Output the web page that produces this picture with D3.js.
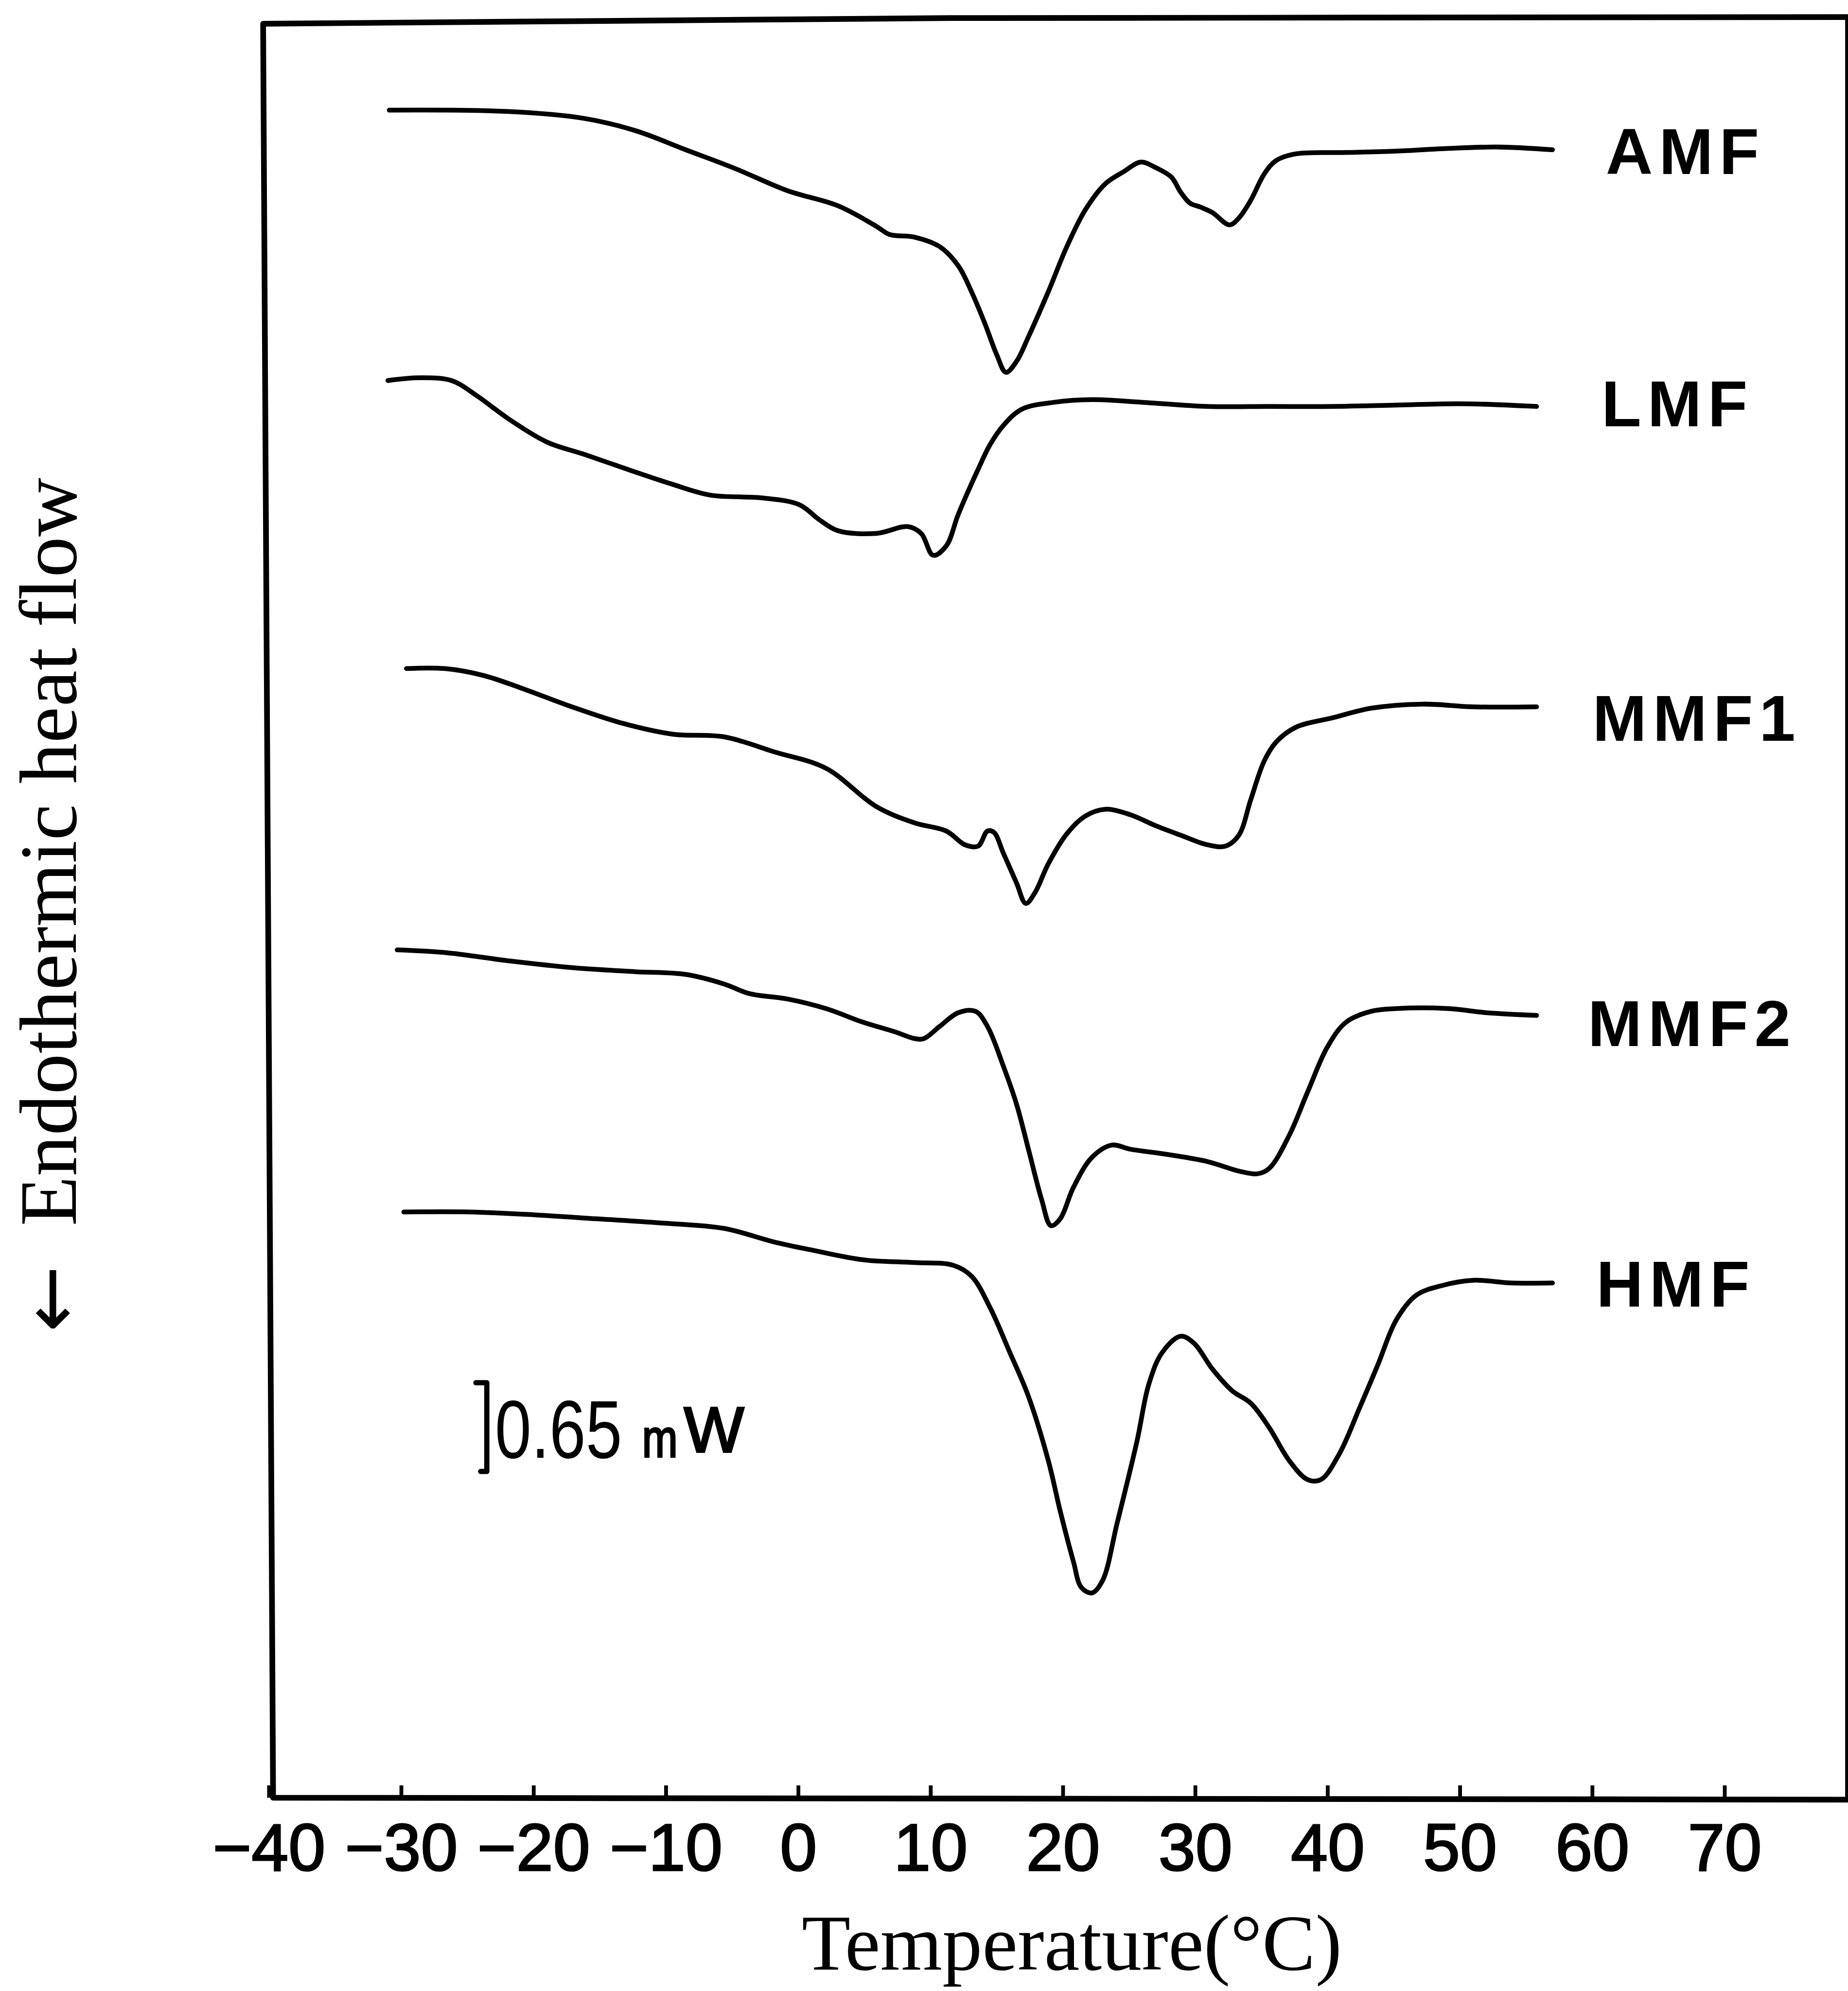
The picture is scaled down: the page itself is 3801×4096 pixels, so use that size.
<!DOCTYPE html>
<html>
<head>
<meta charset="utf-8">
<script src="https://cdn.jsdelivr.net/npm/d3@7"></script>
<style>
  html, body { margin: 0; padding: 0; background: #fff; }
  svg { display: block; }
</style>
</head>
<body>
<div id="chart"></div>
<script>
// DSC melting curves, heat flow in mW (curves stacked with offsets)
const tickValues = [-40, -30, -20, -10, 0, 10, 20, 30, 40, 50, 60, 70];
const seriesNames = ["AMF", "LMF", "MMF1", "MMF2", "HMF"];
const scaleBarMw = 0.65;

const amfTemp = [-30.9, -21.9, -16.2, -12.3, -8.5, -4.7, -0.8, 3.0, 5.9, 6.9, 8.8, 10.7, 12.1, 13.1, 14.1, 15.0, 15.7, 16.5, 17.4, 18.9, 20.3, 21.7, 23.2, 24.6, 25.9, 27.0, 28.2, 28.9, 29.6, 30.4, 31.3, 32.6, 33.3, 34.2, 35.2, 36.1, 37.6, 41.4, 45.2, 49.1, 52.9, 57.0];
const amfFlow = [12.36, 12.35, 12.30, 12.21, 12.07, 11.93, 11.77, 11.66, 11.51, 11.45, 11.43, 11.36, 11.22, 11.03, 10.80, 10.57, 10.44, 10.52, 10.70, 11.03, 11.36, 11.63, 11.82, 11.91, 11.98, 11.94, 11.87, 11.76, 11.68, 11.65, 11.61, 11.52, 11.57, 11.70, 11.89, 11.99, 12.04, 12.05, 12.06, 12.08, 12.09, 12.07];

const lmfTemp = [-31.0, -28.6, -26.2, -24.3, -21.9, -19.0, -16.2, -12.3, -9.5, -6.6, -2.7, 0.1, 1.6, 3.0, 5.9, 8.3, 9.3, 10.2, 11.2, 12.1, 13.6, 14.5, 15.5, 16.9, 19.3, 22.2, 26.1, 30.9, 35.6, 40.4, 45.2, 50.0, 55.8];
const lmfFlow = [10.38, 10.40, 10.38, 10.27, 10.10, 9.93, 9.84, 9.71, 9.62, 9.54, 9.52, 9.47, 9.36, 9.28, 9.26, 9.31, 9.26, 9.10, 9.17, 9.40, 9.73, 9.91, 10.05, 10.17, 10.22, 10.24, 10.22, 10.19, 10.19, 10.19, 10.20, 10.21, 10.19];

const mmf1Temp = [-29.6, -26.7, -23.8, -21.0, -17.1, -13.3, -9.5, -5.6, -1.8, 2.1, 5.9, 8.8, 11.2, 12.6, 13.6, 14.3, 14.8, 15.5, 16.5, 17.2, 17.9, 18.9, 20.3, 21.7, 23.2, 25.1, 27.0, 28.9, 30.9, 32.3, 33.3, 34.2, 35.2, 36.1, 37.6, 40.4, 43.3, 47.2, 51.0, 55.8];
const mmf1Flow = [8.27, 8.27, 8.22, 8.13, 7.99, 7.87, 7.79, 7.77, 7.66, 7.54, 7.26, 7.14, 7.08, 6.98, 6.97, 7.08, 7.07, 6.92, 6.70, 6.55, 6.63, 6.84, 7.06, 7.19, 7.24, 7.20, 7.12, 7.05, 6.98, 6.97, 7.05, 7.31, 7.59, 7.73, 7.84, 7.91, 7.98, 8.01, 7.99, 7.99];

const mmf2Temp = [-30.3, -26.7, -21.9, -17.1, -12.3, -8.5, -5.6, -3.7, -0.8, 2.1, 4.9, 7.3, 8.8, 9.5, 10.7, 12.1, 13.4, 14.3, 15.5, 16.5, 17.4, 18.4, 19.1, 19.8, 20.8, 22.2, 23.7, 25.1, 28.0, 30.9, 33.3, 34.7, 35.6, 37.1, 38.5, 40.0, 41.4, 43.3, 45.2, 49.1, 52.0, 55.8];
const mmf2Flow = [6.21, 6.19, 6.13, 6.08, 6.05, 6.03, 5.96, 5.89, 5.85, 5.78, 5.68, 5.61, 5.56, 5.56, 5.65, 5.75, 5.76, 5.65, 5.36, 5.08, 4.75, 4.38, 4.19, 4.24, 4.47, 4.69, 4.78, 4.75, 4.71, 4.66, 4.59, 4.57, 4.61, 4.85, 5.17, 5.50, 5.68, 5.76, 5.78, 5.78, 5.75, 5.73];

const hmfTemp = [-29.8, -24.8, -20.0, -15.2, -10.4, -5.6, -1.8, 1.1, 4.9, 8.8, 11.7, 13.1, 14.5, 16.0, 17.4, 18.9, 19.8, 20.8, 21.4, 22.2, 23.0, 24.1, 25.6, 26.5, 27.5, 28.9, 29.9, 31.3, 32.8, 34.2, 35.6, 37.1, 38.5, 39.5, 40.9, 42.4, 43.8, 45.2, 46.7, 48.6, 51.0, 53.9, 57.0];
const hmfFlow = [4.29, 4.29, 4.27, 4.24, 4.21, 4.17, 4.07, 4.01, 3.94, 3.92, 3.90, 3.82, 3.59, 3.26, 2.94, 2.47, 2.10, 1.73, 1.54, 1.50, 1.59, 2.01, 2.61, 3.03, 3.26, 3.38, 3.33, 3.14, 2.98, 2.89, 2.71, 2.47, 2.33, 2.33, 2.52, 2.85, 3.17, 3.50, 3.68, 3.75, 3.79, 3.77, 3.77];

// layout (reference pixel space, scaled down by the viewBox)
const W = 3891, H = 4193;
const labelX = [3381, 3372, 3353, 3343, 3361];
const labelBaseline = [366, 898, 1560, 2203, 2752];

const series = [
    { temp: amfTemp, flow: amfFlow },
    { temp: lmfTemp, flow: lmfFlow },
    { temp: mmf1Temp, flow: mmf1Flow },
    { temp: mmf2Temp, flow: mmf2Flow },
    { temp: hmfTemp, flow: hmfFlow }
].map((s, i) => ({
    name: seriesNames[i],
    points: s.temp.map((t, j) => ({ t: t, v: s.flow[j] }))
}));

const svg = d3.select('#chart')
    .append('svg')
    .attr('width', 3801)
    .attr('height', 4096)
    .attr('viewBox', `0 0 ${W} ${H}`);

const x = d3.scaleLinear()
    .domain([-40, 70])
    .range([566, 3631]);

const y = d3.scaleLinear()
    .domain([0, 13])
    .range([3786, 48]);

// frame (hand drawn, slightly skewed)
const frame = svg.append('g')
    .attr('fill', 'none')
    .attr('stroke', '#000')
    .attr('stroke-linecap', 'round')
    .attr('stroke-linejoin', 'round');

frame.append('path')
    .attr('stroke-width', 12)
    .attr('d', `M3891,36 L2000,38 L554,50 L575,3786 L3891,3790`);

frame.append('path')
    .attr('stroke-width', 6)
    .attr('d', `M3888,40 L3888,3790`);

// bottom axis: ticks point inward
const axis = svg.append('g')
    .attr('transform', `translate(0, 3786)`)
    .call(d3.axisBottom(x)
        .tickValues(tickValues)
        .tickSizeInner(-26)
        .tickSizeOuter(0)
        .tickPadding(54)
        .tickFormat(d => d < 0 ? '\u2212' + Math.abs(d) : String(d)));

axis.select('.domain').remove();
axis.selectAll('.tick line')
    .attr('stroke', '#000')
    .attr('stroke-width', 8);
axis.selectAll('.tick text')
    .attr('fill', '#000')
    .attr('stroke', '#000')
    .attr('stroke-width', 3)
    .style('font-family', '"Liberation Sans", Arial, sans-serif')
    .style('font-size', '140px');

// curves
const line = d3.line()
    .x(d => x(d.t))
    .y(d => y(d.v))
    .curve(d3.curveCatmullRom.alpha(0.5));

svg.append('g')
    .selectAll('path')
    .data(series)
    .enter().append('path')
    .attr('fill', 'none')
    .attr('stroke', '#000')
    .attr('stroke-width', 10)
    .attr('stroke-linejoin', 'round')
    .attr('stroke-linecap', 'round')
    .attr('d', d => line(d.points));

// series labels
svg.append('g')
    .selectAll('text')
    .data(series)
    .enter().append('text')
    .attr('x', (d, i) => labelX[i])
    .attr('y', (d, i) => labelBaseline[i])
    .style('font-family', '"Liberation Sans", Arial, sans-serif')
    .style('font-weight', 'bold')
    .style('font-size', '137px')
    .style('letter-spacing', '13px')
    .text(d => d.name);

// scale bar 0.65 mW
const barTop = 2912;
const barLen = y(0) - y(scaleBarMw);
svg.append('path')
    .attr('fill', 'none')
    .attr('stroke', '#000')
    .attr('stroke-width', 11)
    .attr('stroke-linecap', 'round')
    .attr('stroke-linejoin', 'round')
    .attr('d', `M1002,${barTop} L1025,${barTop} L1025,${barTop + barLen} L1012,${barTop + barLen}`);

// narrow-looking lettering: squeeze horizontally
const bar = svg.append('g')
    .attr('fill', '#000')
    .style('font-family', '"Liberation Sans", Arial, sans-serif');
bar.append('text')
    .attr('transform', 'translate(1042, 3070) scale(0.8, 1)')
    .style('font-size', '172px')
    .text('0.65');
bar.append('text')
    .attr('transform', 'translate(1352, 3068) scale(0.8, 1)')
    .attr('stroke', '#000')
    .attr('stroke-width', 4)
    .style('font-size', '112px')
    .text('m');
bar.append('text')
    .attr('transform', 'translate(1440, 3058)')
    .attr('stroke', '#000')
    .attr('stroke-width', 4)
    .style('font-size', '134px')
    .text('W');

// axis titles
svg.append('text')
    .attr('x', 1688)
    .attr('y', 4148)
    .style('font-family', '"Liberation Serif", "Times New Roman", serif')
    .style('font-size', '168px')
    .text('Temperature(\u00B0C)');

svg.append('text')
    .attr('transform', 'translate(164, 0) rotate(-90)')
    .attr('x', -2806)
    .style('font-family', '"DejaVu Sans", sans-serif')
    .style('font-size', '168px')
    .text('\u2190');

svg.append('text')
    .attr('transform', 'translate(160, 0) rotate(-90)')
    .attr('x', -2582)
    .style('font-family', '"Liberation Serif", "Times New Roman", serif')
    .style('font-size', '172px')
    .text('Endothermic heat flow');
</script>
</body>
</html>
